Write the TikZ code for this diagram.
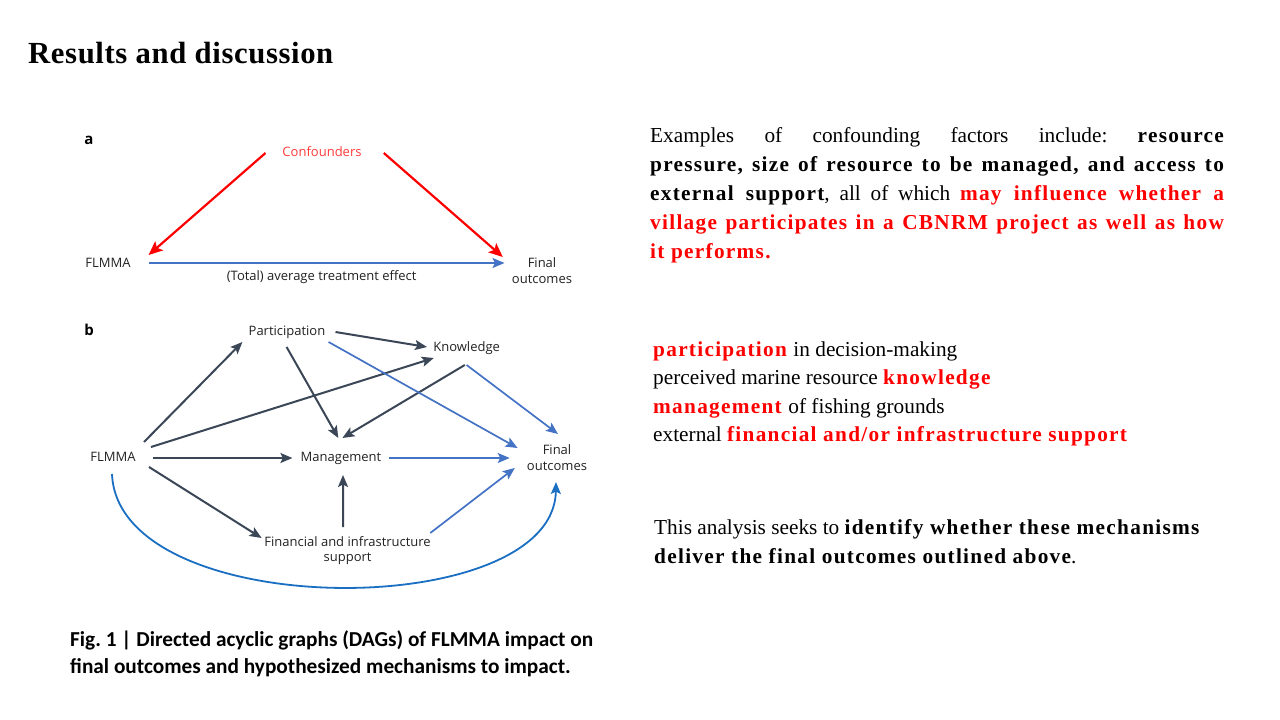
\documentclass[tikz,border=0pt]{standalone}
\usepackage{fontspec}
\setmainfont{Liberation Serif}[BoldFeatures={LetterSpace=6}]
\newfontfamily\titlefont{Liberation Serif Bold}[LetterSpace=2]
\newfontfamily\dsans{Open Sans}
\newfontfamily\capfont{Carlito}
\usetikzlibrary{arrows.meta,calc}
\definecolor{dkc}{HTML}{3B4657}
\definecolor{blc}{HTML}{4472C4}
\definecolor{cvc}{HTML}{1B6FC2}
\definecolor{rdc}{HTML}{FF0000}
\definecolor{cfc}{HTML}{FF3B3B}
\definecolor{txc}{HTML}{222222}
\frenchspacing
\tikzset{
  dg/.style={inner sep=0pt, text=txc, align=center, font=\dsans\fontsize{13}{15.5}\selectfont},
  panellbl/.style={inner sep=0pt, font=\dsans\bfseries\fontsize{15}{15}\selectfont},
  redar/.style={draw=rdc, line width=2.2pt, -{Stealth[length=14pt,width=12pt,inset=3pt]}},
  dkar/.style={draw=dkc, line width=2pt, -{Stealth[length=12pt,width=10pt,inset=2.5pt]}},
  blar/.style={draw=blc, line width=1.7pt, -{Stealth[length=12pt,width=10pt,inset=2.5pt]}},
  cvar/.style={draw=cvc, line width=1.8pt, -{Stealth[length=12pt,width=10pt,inset=2.5pt]}},
  txt/.style={anchor=base west, inner sep=0pt, font=\frenchspacing\fontsize{21.3}{25}\selectfont},
  captxt/.style={anchor=base west, inner sep=0pt, font=\capfont\bfseries\fontsize{21.3}{24}\selectfont},
}
\begin{document}
\begin{tikzpicture}[x=1pt,y=-1pt]
\useasboundingbox[fill=white] (0,0) rectangle (1280,720);

% title
\node[anchor=base west, inner sep=0pt, font=\titlefont\fontsize{30.7}{32}\selectfont] (title) at (28,63) {Results and discussion};

% panel a
\node[panellbl] (la) at (89,140) {a};
\node[dg, text=cfc] (conf) at (322,152) {Confounders};
\node[dg] (fa) at (108,263) {FLMMA};
\node[dg] (oa) at (542,270.5) {Final\\outcomes};
\node[dg] (ate) at (321.7,277.5) {(Total) average treatment effect};
\draw[redar] ($(conf)+(-56.5,1)$) -- ($(fa)+(40.6,-8)$);
\draw[redar] ($(conf)+(61.8,1)$) -- ($(oa)+(-39.2,-13.5)$);
\draw[blar] ($(fa)+(41.3,0)$) -- ($(oa)+(-37.5,-7.5)$);

% panel b
\node[panellbl] (lb) at (89,330) {b};
\node[dg] (part) at (287,332) {Participation};
\node[dg] (know) at (466.6,348) {Knowledge};
\node[dg] (fb) at (113,457) {FLMMA};
\node[dg] (mgmt) at (341,458) {Management};
\node[dg] (ob) at (557,457.5) {Final\\outcomes};
\node[dg] (fin) at (347.6,550.5) {Financial and infrastructure\\support};

\draw[dkar] ($(fb)+(31,-15)$) -- ($(part)+(-44.6,10)$);
\draw[dkar] ($(fb)+(38,-10)$) -- ($(know)+(-32.8,10)$);
\draw[dkar] ($(fb)+(40,1)$) -- ($(mgmt)+(-48.6,0)$);
\draw[dkar] ($(fb)+(36,10)$) -- ($(fin)+(-86,-12.5)$);
\draw[dkar] ($(part)+(48.5,0)$) -- ($(know)+(-39.6,-1)$);
\draw[dkar] ($(part)+(-0.4,15)$) -- ($(mgmt)+(-2.7,-20)$);
\draw[dkar] ($(know)+(-1.8,17)$) -- ($(mgmt)+(1.4,-20)$);
\draw[dkar] ($(fin)+(-4.5,-23.5)$) -- ($(mgmt)+(2,17)$);
\draw[blar] ($(part)+(41.6,10)$) -- ($(ob)+(-39.4,-9.5)$);
\draw[blar] ($(know)+(0,17)$) -- ($(ob)+(1,-23.5)$);
\draw[blar] ($(mgmt)+(48,0)$) -- ($(ob)+(-47.3,0.5)$);
\draw[blar] ($(fin)+(82.7,-17.5)$) -- ($(ob)+(-42.2,10.5)$);
\draw[cvar] ($(fb)+(-1,17)$) .. controls (118,623) and (554,623) .. ($(ob)+(-1,24.5)$);

% caption
\node[captxt] (cap1) at (70,646) {Fig. 1 | Directed acyclic graphs (DAGs) of FLMMA impact on};
\node[captxt] (cap2) at (70,673) {final outcomes and hypothesized mechanisms to impact.};

% right text block 1
\node[txt] (t1) at (650,142) {\makebox[575pt][s]{Examples of confounding factors include: \textbf{resource}}};
\node[txt] (t2) at (650,171) {\makebox[575pt][s]{\textbf{pressure, size of resource to be managed, and access to}}};
\node[txt] (t3) at (650,200) {\makebox[575pt][s]{\textbf{external support}, all of which \textcolor{rdc}{\textbf{may influence whether a}}}};
\node[txt] (t4) at (650,229) {\makebox[575pt][s]{\textcolor{rdc}{\textbf{village participates in a CBNRM project as well as how}}}};
\node[txt] (t5) at (650,258) {\textcolor{rdc}{\textbf{it performs.}}};

% right text block 2
\node[txt] (m1) at (653,356) {\textcolor{rdc}{\textbf{participation}} in decision-making};
\node[txt] (m2) at (653,384.5) {perceived marine resource \textcolor{rdc}{\textbf{knowledge}}};
\node[txt] (m3) at (653,413) {\textcolor{rdc}{\textbf{management}} of fishing grounds};
\node[txt] (m4) at (653,441.5) {external \textcolor{rdc}{\textbf{financial and/or infrastructure support}}};

% right text block 3
\node[txt] (s1) at (654,534) {This analysis seeks to \textbf{identify whether these mechanisms}};
\node[txt] (s2) at (654,563) {\textbf{deliver the final outcomes outlined above}.};
\end{tikzpicture}
\end{document}
